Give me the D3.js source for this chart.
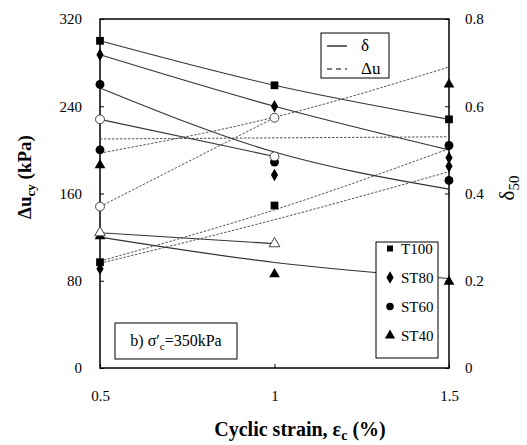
<!DOCTYPE html>
<html>
<head>
<meta charset="utf-8">
<script src="https://cdn.jsdelivr.net/npm/d3@7"></script>
<style>
  html, body { margin: 0; padding: 0; background: #fff; }
  svg text { font-family: "Liberation Serif", "Times New Roman", serif; }
</style>
</head>
<body>
<svg id="chart" width="527" height="445"></svg>
<script>
// Cyclic strain levels
const strain = [0.5, 1, 1.5];
const strainShort = [0.5, 1];

// Tick labels
const xTicks = [0.5, 1, 1.5];
const leftTicks = [0, 80, 160, 240, 320];
const rightTicks = [0, 0.2, 0.4, 0.6, 0.8];

// Measured δ50 (right axis)
const deltaT100 = [0.75, 0.648, 0.57];
const deltaST80 = [0.718, 0.60, 0.482];
const deltaST60 = [0.65, 0.472, 0.43];
const deltaST40 = [0.302, 0.215, 0.198];

// Measured Δu_cy in kPa (left axis); null where no point
const duT100 = [97, 149, null];
const duST80 = [91, 177, 185];
const duST60 = [200, null, 204];
const duST40 = [186, null, 260];

// Open-marker series (two strain levels only)
const openCircleDelta = [0.57, 0.485];
const openCircleDu = [148, 229.5];
const openTriangleDelta = [0.31, 0.285];

// Trend curves for δ50 (solid)
const fitDeltaT100 = [0.75, 0.648, 0.57];
const fitDeltaST80 = [0.718, 0.60, 0.50];
const fitDeltaST60 = [0.642, 0.495, 0.41];
const fitDeltaST40 = [0.30, 0.242, 0.205];

// Trend curves for Δu_cy (dashed)
const fitDuA = [210, 211, 212];
const fitDuB = [197, 230, 276];
const fitDuC = [98, 145, 201];
const fitDuD = [96, 136, 180];

const legendSeries = ["T100", "ST80", "ST60", "ST40"];
const legendSymbols = [d3.symbolSquare, d3.symbolDiamond, d3.symbolCircle, d3.symbolTriangle];

const serif = "'Liberation Serif', 'Times New Roman', serif";
const svg = d3.select("#chart");
const x = d3.scaleLinear().domain([0.5, 1.5]).range([100, 449]);
const yL = d3.scaleLinear().domain([0, 320]).range([368, 19]);
const yR = d3.scaleLinear().domain([0, 0.8]).range([368, 19]);

// Axes: ticks point into the plot
const gx = svg.append("g").attr("transform", `translate(0,${yL(0)})`)
  .call(d3.axisBottom(x).tickValues(xTicks).tickFormat(d3.format("")).tickSize(-4).tickPadding(22));
const gl = svg.append("g").attr("transform", `translate(${x(0.5)},0)`)
  .call(d3.axisLeft(yL).tickValues(leftTicks).tickSize(-4).tickPadding(18));
const gr = svg.append("g").attr("transform", `translate(${x(1.5)},0)`)
  .call(d3.axisRight(yR).tickValues(rightTicks).tickFormat(d => d === 0 ? "0" : d3.format(".1f")(d)).tickSize(-4).tickPadding(16));
[gx, gl, gr].forEach(g => {
  g.attr("font-family", serif);
  g.select(".domain").remove();
  g.selectAll("line").attr("stroke", "#000").attr("stroke-width", 1);
  g.selectAll("text").attr("font-size", 15).attr("fill", "#000").style("font-family", serif);
});

// Plot frame
svg.append("rect")
  .attr("x", x(0.5)).attr("y", yL(320))
  .attr("width", x(1.5) - x(0.5)).attr("height", yL(0) - yL(320))
  .attr("fill", "none").attr("stroke", "#000").attr("stroke-width", 1.5);

const lineL = d3.line().x(d => x(d[0])).y(d => yL(d[1])).curve(d3.curveNatural);
const lineR = d3.line().x(d => x(d[0])).y(d => yR(d[1])).curve(d3.curveNatural);
const pairs = (xs, ys) => xs.map((v, i) => [v, ys[i]]).filter(p => p[1] != null);

const plot = svg.append("g");

// Dashed trend curves (Δu)
[fitDuA, fitDuB, fitDuC, fitDuD].forEach(s => {
  plot.append("path").attr("d", lineL(pairs(strain, s)))
    .attr("fill", "none").attr("stroke", "#555").attr("stroke-width", 1)
    .attr("stroke-dasharray", "2.5,1.5");
});
plot.append("path").attr("d", lineL(pairs(strainShort, openCircleDu)))
  .attr("fill", "none").attr("stroke", "#555").attr("stroke-width", 1)
  .attr("stroke-dasharray", "2.5,1.5");

// Solid trend curves (δ50)
[fitDeltaT100, fitDeltaST80, fitDeltaST60, fitDeltaST40].forEach(s => {
  plot.append("path").attr("d", lineR(pairs(strain, s)))
    .attr("fill", "none").attr("stroke", "#333").attr("stroke-width", 1.1);
});
[openCircleDelta, openTriangleDelta].forEach(s => {
  plot.append("path").attr("d", lineR(pairs(strainShort, s)))
    .attr("fill", "none").attr("stroke", "#333").attr("stroke-width", 1.1);
});

// Markers
const sym = (type, size) => d3.symbol().type(type).size(size)();
const symSize = { square: 60, diamond: 45, circle: 62, triangle: 50 };
function drawMarkers(xs, ys, scale, type, size, filled) {
  pairs(xs, ys).forEach(p => {
    plot.append("path").attr("d", sym(type, size))
      .attr("transform", `translate(${x(p[0])},${scale(p[1])})`)
      .attr("fill", filled ? "#000" : "#fff")
      .attr("stroke", filled ? "none" : "#444").attr("stroke-width", 1);
  });
}
drawMarkers(strain, deltaT100, yR, d3.symbolSquare, symSize.square, true);
drawMarkers(strain, duT100, yL, d3.symbolSquare, symSize.square, true);
drawMarkers(strain, deltaST80, yR, d3.symbolDiamond, symSize.diamond, true);
drawMarkers(strain, duST80, yL, d3.symbolDiamond, symSize.diamond, true);
drawMarkers(strain, deltaST60, yR, d3.symbolCircle, symSize.circle, true);
drawMarkers(strain, duST60, yL, d3.symbolCircle, symSize.circle, true);
drawMarkers(strain, deltaST40, yR, d3.symbolTriangle, symSize.triangle, true);
drawMarkers(strain, duST40, yL, d3.symbolTriangle, symSize.triangle, true);
drawMarkers(strainShort, openCircleDelta, yR, d3.symbolCircle, symSize.circle, false);
drawMarkers(strainShort, openCircleDu, yL, d3.symbolCircle, symSize.circle, false);
drawMarkers(strainShort, openTriangleDelta, yR, d3.symbolTriangle, symSize.triangle, false);

// Line-style legend
const lg = svg.append("g");
lg.append("rect").attr("x", 321).attr("y", 33).attr("width", 68).attr("height", 45)
  .attr("fill", "#fff").attr("stroke", "#000").attr("stroke-width", 1);
lg.append("line").attr("x1", 327).attr("x2", 347).attr("y1", 46).attr("y2", 46)
  .attr("stroke", "#000").attr("stroke-width", 1.2);
lg.append("line").attr("x1", 327).attr("x2", 347).attr("y1", 69).attr("y2", 69)
  .attr("stroke", "#000").attr("stroke-width", 1.2).attr("stroke-dasharray", "5,4");
lg.append("text").attr("x", 361).attr("y", 51).attr("font-size", 17).text("δ");
lg.append("text").attr("x", 361).attr("y", 74).attr("font-size", 17).text("Δu");

// Material legend
const mg = svg.append("g");
mg.append("rect").attr("x", 376).attr("y", 242).attr("width", 62).attr("height", 116)
  .attr("fill", "#fff").attr("stroke", "#000").attr("stroke-width", 1);
legendSeries.forEach((name, i) => {
  const cy = 248.5 + i * 29;
  mg.append("path").attr("d", sym(legendSymbols[i], i === 0 ? 36 : 45))
    .attr("transform", `translate(390,${cy})`).attr("fill", "#000");
  mg.append("text").attr("x", 401).attr("y", cy + 5.5).attr("font-size", 15).text(name);
});

// Confining stress note
const ng = svg.append("g");
ng.append("rect").attr("x", 115).attr("y", 323).attr("width", 122).attr("height", 36)
  .attr("fill", "#fff").attr("stroke", "#000").attr("stroke-width", 1);
const note = ng.append("text").attr("x", 176).attr("y", 346).attr("font-size", 16).attr("text-anchor", "middle");
note.append("tspan").text("b) σ′");
note.append("tspan").attr("font-size", 11).attr("dy", 4).text("c");
note.append("tspan").attr("dy", -4).text("=350kPa");

// Axis titles
const ylab = svg.append("text").attr("transform", "translate(31,177) rotate(-90)")
  .attr("text-anchor", "middle").attr("font-size", 19).attr("font-weight", "bold");
ylab.append("tspan").text("Δu");
ylab.append("tspan").attr("font-size", 13).attr("dy", 4).text("cy");
ylab.append("tspan").attr("dy", -4).text(" (kPa)");

const rlab = svg.append("text").attr("transform", "translate(514,188) rotate(-90)")
  .attr("text-anchor", "middle").attr("font-size", 21);
rlab.append("tspan").text("δ");
rlab.append("tspan").attr("font-size", 15).attr("dy", 5).text("50");

const xlab = svg.append("text").attr("x", 300).attr("y", 436)
  .attr("text-anchor", "middle").attr("font-size", 20).attr("font-weight", "bold");
xlab.append("tspan").text("Cyclic strain, ε");
xlab.append("tspan").attr("font-size", 14).attr("dy", 4).text("c");
xlab.append("tspan").attr("dy", -4).text(" (%)");
</script>
</body>
</html>
